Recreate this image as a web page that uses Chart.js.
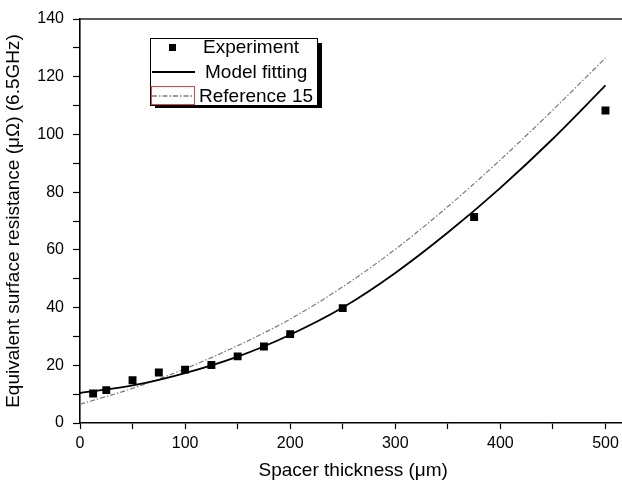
<!DOCTYPE html>
<html>
<head>
<meta charset="utf-8">
<script src="https://cdn.jsdelivr.net/npm/chart.js@4/dist/chart.umd.min.js"></script>
<style>
  html, body { margin: 0; padding: 0; background: #fff; overflow: hidden; }
  #wrap { width: 640px; height: 482px; }
</style>
</head>
<body>
<div id="wrap"><canvas id="c" width="640" height="482"></canvas></div>
<script>
// ---- data ----
const expX = [12.5, 25, 50, 75, 100, 125, 150, 175, 200, 250, 375, 500];
const expY = [10.2, 11.4, 14.8, 17.5, 18.5, 20.1, 23.1, 26.5, 30.8, 39.8, 71.4, 108.3];
const curveX = [0, 50, 100, 150, 200, 250, 300, 350, 400, 450, 500];
const modelY = [10.4, 13.0, 17.3, 23.0, 30.6, 40.0, 52.0, 66.0, 81.5, 98.5, 117.0];
const refY = [6.5, 12.0, 18.8, 26.8, 36.0, 47.2, 60.2, 75.0, 91.2, 108.5, 126.5];
const seriesLabels = ['Experiment', 'Model fitting', 'Reference 15'];
const xTitle = 'Spacer thickness (\u03bcm)';
const yTitle = 'Equivalent surface resistance (\u03bc\u03a9) (6.5GHz)';

const FONT = "'Liberation Sans', Arial, sans-serif";
const pts = (xs, ys) => xs.map((x, i) => ({ x: x, y: ys[i] }));

const frameTop = {
  id: 'frameTop',
  afterDatasetsDraw(chart) {
    const { ctx, chartArea } = chart;
    ctx.save();
    ctx.strokeStyle = '#222';
    ctx.lineWidth = 1.6;
    ctx.beginPath();
    ctx.moveTo(chartArea.left, chartArea.top);
    ctx.lineTo(chartArea.right, chartArea.top);
    ctx.stroke();
    ctx.restore();
  }
};

const boxLegend = {
  id: 'boxLegend',
  afterDraw(chart) {
    const ctx = chart.ctx;
    const L = 150, T = 38, R = 317, B = 105;
    ctx.save();
    // shadow
    ctx.fillStyle = '#000';
    ctx.fillRect(R, T + 5, 5, B - T - 2);
    ctx.fillRect(L + 5, B, R - L, 3);
    // box
    ctx.fillStyle = '#fff';
    ctx.fillRect(L, T, R - L, B - T);
    ctx.strokeStyle = '#000';
    ctx.lineWidth = 1;
    ctx.strokeRect(L + 0.5, T + 0.5, R - L, B - T);
    const ds = chart.data.datasets;
    const rows = [47, 72, 96];
    // experiment marker
    ctx.fillStyle = '#000';
    ctx.fillRect(169, rows[0] - 3, 7, 7);
    // model line
    ctx.strokeStyle = ds[1].borderColor;
    ctx.lineWidth = 1.8;
    ctx.beginPath(); ctx.moveTo(152, rows[1]); ctx.lineTo(195, rows[1]); ctx.stroke();
    // reference dashed
    ctx.strokeStyle = ds[2].borderColor;
    ctx.lineWidth = 1.3;
    ctx.setLineDash(ds[2].borderDash);
    ctx.beginPath(); ctx.moveTo(152, rows[2]); ctx.lineTo(194, rows[2]); ctx.stroke();
    ctx.setLineDash([]);
    // red selection box
    ctx.strokeStyle = '#e0454a';
    ctx.lineWidth = 1;
    ctx.strokeRect(151.5, 86.5, 43, 18);
    // texts
    ctx.fillStyle = '#000';
    ctx.font = '19px ' + FONT;
    ctx.textBaseline = 'middle';
    ctx.textAlign = 'left';
    const tx = [203, 205, 199];
    ds.forEach((d, i) => ctx.fillText(d.label, tx[i], rows[i] + 1));
    ctx.restore();
  }
};

new Chart(document.getElementById('c'), {
  type: 'scatter',
  data: {
    datasets: [
      {
        label: seriesLabels[0],
        data: pts(expX, expY),
        showLine: false,
        pointStyle: 'rect',
        pointRadius: 5.6,
        backgroundColor: '#000',
        borderColor: '#000',
        borderWidth: 0,
        order: 0
      },
      {
        label: seriesLabels[1],
        data: pts(curveX, modelY),
        showLine: true,
        pointRadius: 0,
        borderColor: '#000',
        borderWidth: 1.8,
        cubicInterpolationMode: 'monotone',
        order: 1
      },
      {
        label: seriesLabels[2],
        data: pts(curveX, refY),
        showLine: true,
        pointRadius: 0,
        borderColor: '#7a7a7a',
        borderWidth: 1.2,
        borderDash: [5, 2, 1.5, 2],
        cubicInterpolationMode: 'monotone',
        order: 2
      }
    ]
  },
  options: {
    responsive: false,
    animation: false,
    devicePixelRatio: 1,
    layout: { padding: { top: 19, right: 13.5, left: 0, bottom: 0 } },
    plugins: { legend: { display: false }, tooltip: { enabled: false } },
    scales: {
      x: {
        type: 'linear',
        position: 'bottom',
        min: 0, max: 520,
        afterFit(s) { s.height = 59; },
        grid: { drawOnChartArea: false, tickLength: 6, color: '#000', tickWidth: 1.2 },
        border: { color: '#000', width: 1.6 },
        ticks: {
          stepSize: 50, includeBounds: false, autoSkip: false, maxRotation: 0,
          padding: 5, color: '#000', font: { family: FONT, size: 16 },
          callback: v => (v % 100 === 0 ? String(v) : '')
        },
        title: { display: true, text: xTitle, color: '#000', font: { family: FONT, size: 19 }, padding: { top: 0, bottom: 0 } }
      },
      y: {
        type: 'linear',
        min: 0, max: 140,
        afterFit(s) { s.width = 80; },
        grid: { drawOnChartArea: false, tickLength: 7, color: '#000', tickWidth: 1.2 },
        border: { color: '#000', width: 1.6 },
        ticks: {
          stepSize: 10, includeBounds: false, autoSkip: false,
          padding: 9, color: '#000', font: { family: FONT, size: 16 },
          callback: v => (v % 20 === 0 ? String(v) : '')
        },
        title: { display: true, text: yTitle, color: '#000', font: { family: FONT, size: 19 }, padding: { top: 2, bottom: 0 } }
      }
    }
  },
  plugins: [frameTop, boxLegend]
});
</script>
</body>
</html>
